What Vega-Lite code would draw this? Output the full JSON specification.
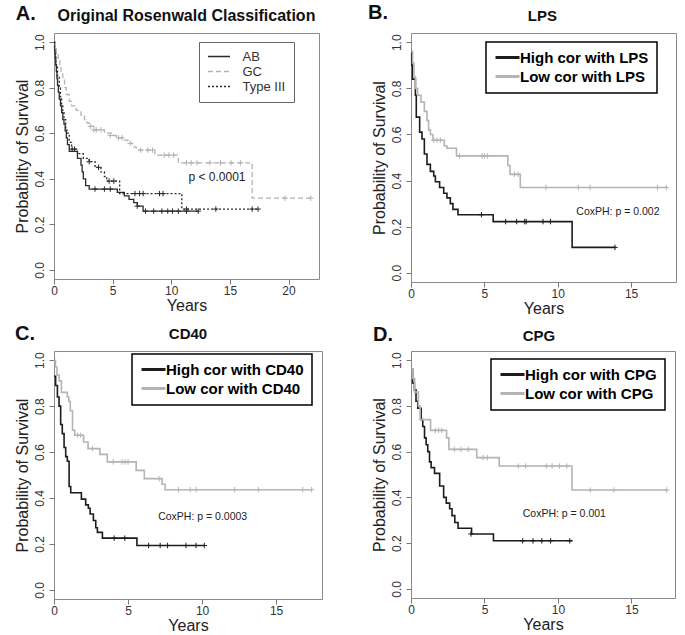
{
 "$schema": "https://vega.github.io/schema/vega-lite/v6.json",
 "background": "white",
 "padding": {"left": 13, "top": 2, "right": 0, "bottom": 0},
 "config": {
  "font": "Liberation Sans",
  "view": {"stroke": "#8a8a8a", "strokeWidth": 1},
  "axis": {"domain": false, "grid": false, "tickColor": "#777", "tickSize": 5, "labelFont": "Liberation Sans", "labelFontSize": 12, "labelColor": "#333", "titleFont": "Liberation Sans", "titleFontSize": 16, "titleFontWeight": "normal", "titleColor": "#222"},
  "axisX": {"labelPadding": 1, "titlePadding": 1, "labelFlush": false},
  "axisY": {"labelAngle": -90, "labelAlign": "center", "labelBaseline": "bottom", "labelPadding": 3, "titlePadding": 3, "format": ".1f", "labelFlush": false},
  "text": {"font": "Liberation Sans"}
 },
 "datasets": {
  "stepsA": [
   {"group":"AB","t":0,"s":1},{"group":"AB","t":0.05,"s":0.97},{"group":"AB","t":0.1,"s":0.93},{"group":"AB","t":0.15,"s":0.9},{"group":"AB","t":0.2,"s":0.87},{"group":"AB","t":0.25,"s":0.84},{"group":"AB","t":0.3,"s":0.81},{"group":"AB","t":0.37,"s":0.78},{"group":"AB","t":0.45,"s":0.75},{"group":"AB","t":0.55,"s":0.72},{"group":"AB","t":0.65,"s":0.69},{"group":"AB","t":0.75,"s":0.66},{"group":"AB","t":0.85,"s":0.64},{"group":"AB","t":0.95,"s":0.61},{"group":"AB","t":1.05,"s":0.58},{"group":"AB","t":1.15,"s":0.55},{"group":"AB","t":1.3,"s":0.52},{"group":"AB","t":2.0,"s":0.49},{"group":"AB","t":2.3,"s":0.46},{"group":"AB","t":2.4,"s":0.43},{"group":"AB","t":2.5,"s":0.4},{"group":"AB","t":2.7,"s":0.37},{"group":"AB","t":3.0,"s":0.355},{"group":"AB","t":5.4,"s":0.34},{"group":"AB","t":6.0,"s":0.325},{"group":"AB","t":6.4,"s":0.31},{"group":"AB","t":6.8,"s":0.295},{"group":"AB","t":7.1,"s":0.28},{"group":"AB","t":7.6,"s":0.258},{"group":"AB","t":12.3,"s":0.258},
   {"group":"GC","t":0,"s":1},{"group":"GC","t":0.1,"s":0.97},{"group":"GC","t":0.2,"s":0.95},{"group":"GC","t":0.35,"s":0.92},{"group":"GC","t":0.5,"s":0.9},{"group":"GC","t":0.6,"s":0.87},{"group":"GC","t":0.75,"s":0.84},{"group":"GC","t":0.9,"s":0.8},{"group":"GC","t":1.05,"s":0.77},{"group":"GC","t":1.3,"s":0.74},{"group":"GC","t":1.5,"s":0.72},{"group":"GC","t":1.9,"s":0.7},{"group":"GC","t":2.3,"s":0.68},{"group":"GC","t":2.6,"s":0.66},{"group":"GC","t":2.8,"s":0.645},{"group":"GC","t":3.0,"s":0.63},{"group":"GC","t":3.5,"s":0.615},{"group":"GC","t":4.3,"s":0.6},{"group":"GC","t":4.9,"s":0.59},{"group":"GC","t":5.3,"s":0.58},{"group":"GC","t":6.0,"s":0.57},{"group":"GC","t":6.3,"s":0.555},{"group":"GC","t":6.7,"s":0.54},{"group":"GC","t":7.0,"s":0.526},{"group":"GC","t":8.6,"s":0.504},{"group":"GC","t":10.6,"s":0.47},{"group":"GC","t":16.9,"s":0.315},{"group":"GC","t":21.9,"s":0.315},
   {"group":"Type III","t":0,"s":1},{"group":"Type III","t":0.05,"s":0.95},{"group":"Type III","t":0.15,"s":0.9},{"group":"Type III","t":0.3,"s":0.85},{"group":"Type III","t":0.45,"s":0.8},{"group":"Type III","t":0.55,"s":0.76},{"group":"Type III","t":0.65,"s":0.72},{"group":"Type III","t":0.75,"s":0.69},{"group":"Type III","t":0.85,"s":0.66},{"group":"Type III","t":1.0,"s":0.62},{"group":"Type III","t":1.1,"s":0.6},{"group":"Type III","t":1.3,"s":0.56},{"group":"Type III","t":1.5,"s":0.53},{"group":"Type III","t":2.0,"s":0.51},{"group":"Type III","t":2.5,"s":0.49},{"group":"Type III","t":3.0,"s":0.475},{"group":"Type III","t":3.5,"s":0.45},{"group":"Type III","t":4.0,"s":0.43},{"group":"Type III","t":4.3,"s":0.41},{"group":"Type III","t":4.5,"s":0.39},{"group":"Type III","t":5.6,"s":0.335},{"group":"Type III","t":10.9,"s":0.267},{"group":"Type III","t":17.4,"s":0.267}
  ],
  "censA": [
   {"group":"AB","t":3.5,"s":0.355},{"group":"AB","t":4.3,"s":0.355},{"group":"AB","t":4.8,"s":0.355},{"group":"AB","t":7.1,"s":0.28},{"group":"AB","t":7.8,"s":0.258},{"group":"AB","t":8.5,"s":0.258},{"group":"AB","t":9.2,"s":0.258},{"group":"AB","t":9.7,"s":0.258},{"group":"AB","t":10.1,"s":0.258},{"group":"AB","t":10.6,"s":0.258},{"group":"AB","t":11.3,"s":0.258},{"group":"AB","t":12.3,"s":0.258},
   {"group":"GC","t":3.1,"s":0.63},{"group":"GC","t":3.4,"s":0.615},{"group":"GC","t":3.6,"s":0.615},{"group":"GC","t":4.0,"s":0.615},{"group":"GC","t":4.8,"s":0.59},{"group":"GC","t":5.5,"s":0.58},{"group":"GC","t":5.8,"s":0.58},{"group":"GC","t":6.5,"s":0.555},{"group":"GC","t":7.4,"s":0.526},{"group":"GC","t":8.0,"s":0.526},{"group":"GC","t":8.4,"s":0.526},{"group":"GC","t":9.4,"s":0.504},{"group":"GC","t":9.8,"s":0.504},{"group":"GC","t":10.2,"s":0.504},{"group":"GC","t":11.3,"s":0.47},{"group":"GC","t":11.7,"s":0.47},{"group":"GC","t":12.2,"s":0.47},{"group":"GC","t":13.3,"s":0.47},{"group":"GC","t":14.2,"s":0.47},{"group":"GC","t":15.1,"s":0.47},{"group":"GC","t":15.9,"s":0.47},{"group":"GC","t":19.7,"s":0.315},{"group":"GC","t":21.9,"s":0.315},
   {"group":"Type III","t":1.55,"s":0.53},{"group":"Type III","t":1.75,"s":0.53},{"group":"Type III","t":3.0,"s":0.475},{"group":"Type III","t":3.8,"s":0.45},{"group":"Type III","t":4.7,"s":0.39},{"group":"Type III","t":5.1,"s":0.39},{"group":"Type III","t":6.9,"s":0.335},{"group":"Type III","t":7.3,"s":0.335},{"group":"Type III","t":7.6,"s":0.335},{"group":"Type III","t":9.0,"s":0.335},{"group":"Type III","t":9.3,"s":0.335},{"group":"Type III","t":11.3,"s":0.267},{"group":"Type III","t":13.8,"s":0.267},{"group":"Type III","t":16.9,"s":0.267},{"group":"Type III","t":17.4,"s":0.267}
  ],
  "noteA": [{"t":13.9,"s":0.41,"label":"p < 0.0001"}],
  "stepsB": [
   {"group":"High cor with LPS","t":0,"s":0.96},{"group":"High cor with LPS","t":0.05,"s":0.9},{"group":"High cor with LPS","t":0.1,"s":0.84},{"group":"High cor with LPS","t":0.3,"s":0.77},{"group":"High cor with LPS","t":0.36,"s":0.675},{"group":"High cor with LPS","t":0.59,"s":0.61},{"group":"High cor with LPS","t":0.75,"s":0.58},{"group":"High cor with LPS","t":0.91,"s":0.515},{"group":"High cor with LPS","t":1.09,"s":0.47},{"group":"High cor with LPS","t":1.32,"s":0.44},{"group":"High cor with LPS","t":1.55,"s":0.42},{"group":"High cor with LPS","t":1.66,"s":0.395},{"group":"High cor with LPS","t":1.95,"s":0.37},{"group":"High cor with LPS","t":2.23,"s":0.345},{"group":"High cor with LPS","t":2.45,"s":0.325},{"group":"High cor with LPS","t":2.68,"s":0.3},{"group":"High cor with LPS","t":2.86,"s":0.275},{"group":"High cor with LPS","t":3.2,"s":0.252},{"group":"High cor with LPS","t":5.6,"s":0.222},{"group":"High cor with LPS","t":10.98,"s":0.11},{"group":"High cor with LPS","t":13.93,"s":0.11},
   {"group":"Low cor with LPS","t":0,"s":0.96},{"group":"Low cor with LPS","t":0.11,"s":0.91},{"group":"Low cor with LPS","t":0.2,"s":0.85},{"group":"Low cor with LPS","t":0.3,"s":0.8},{"group":"Low cor with LPS","t":0.45,"s":0.77},{"group":"Low cor with LPS","t":0.68,"s":0.74},{"group":"Low cor with LPS","t":0.91,"s":0.7},{"group":"Low cor with LPS","t":1.09,"s":0.66},{"group":"Low cor with LPS","t":1.2,"s":0.62},{"group":"Low cor with LPS","t":1.32,"s":0.6},{"group":"Low cor with LPS","t":1.5,"s":0.575},{"group":"Low cor with LPS","t":2.27,"s":0.55},{"group":"Low cor with LPS","t":2.45,"s":0.54},{"group":"Low cor with LPS","t":3.1,"s":0.507},{"group":"Low cor with LPS","t":6.6,"s":0.465},{"group":"Low cor with LPS","t":6.75,"s":0.427},{"group":"Low cor with LPS","t":7.45,"s":0.37},{"group":"Low cor with LPS","t":17.45,"s":0.37}
  ],
  "censB": [
   {"group":"High cor with LPS","t":4.8,"s":0.252},{"group":"High cor with LPS","t":6.45,"s":0.222},{"group":"High cor with LPS","t":7.2,"s":0.222},{"group":"High cor with LPS","t":7.75,"s":0.222},{"group":"High cor with LPS","t":7.85,"s":0.222},{"group":"High cor with LPS","t":9.0,"s":0.222},{"group":"High cor with LPS","t":9.5,"s":0.222},{"group":"High cor with LPS","t":13.9,"s":0.11},
   {"group":"Low cor with LPS","t":1.55,"s":0.575},{"group":"Low cor with LPS","t":1.77,"s":0.575},{"group":"Low cor with LPS","t":2.0,"s":0.575},{"group":"Low cor with LPS","t":3.3,"s":0.507},{"group":"Low cor with LPS","t":4.85,"s":0.507},{"group":"Low cor with LPS","t":5.0,"s":0.507},{"group":"Low cor with LPS","t":5.2,"s":0.507},{"group":"Low cor with LPS","t":7.05,"s":0.427},{"group":"Low cor with LPS","t":7.3,"s":0.427},{"group":"Low cor with LPS","t":9.2,"s":0.37},{"group":"Low cor with LPS","t":11.4,"s":0.37},{"group":"Low cor with LPS","t":12.2,"s":0.37},{"group":"Low cor with LPS","t":16.8,"s":0.37},{"group":"Low cor with LPS","t":17.4,"s":0.37}
  ],
  "noteB": [{"t":14.1,"s":0.264,"label":"CoxPH: p = 0.002"}],
  "stepsC": [
   {"group":"High cor with CD40","t":0,"s":0.93},{"group":"High cor with CD40","t":0.11,"s":0.89},{"group":"High cor with CD40","t":0.23,"s":0.84},{"group":"High cor with CD40","t":0.34,"s":0.8},{"group":"High cor with CD40","t":0.45,"s":0.72},{"group":"High cor with CD40","t":0.56,"s":0.68},{"group":"High cor with CD40","t":0.68,"s":0.62},{"group":"High cor with CD40","t":0.79,"s":0.58},{"group":"High cor with CD40","t":0.9,"s":0.56},{"group":"High cor with CD40","t":1.02,"s":0.45},{"group":"High cor with CD40","t":1.13,"s":0.423},{"group":"High cor with CD40","t":1.85,"s":0.395},{"group":"High cor with CD40","t":2.14,"s":0.37},{"group":"High cor with CD40","t":2.32,"s":0.355},{"group":"High cor with CD40","t":2.44,"s":0.33},{"group":"High cor with CD40","t":2.66,"s":0.302},{"group":"High cor with CD40","t":2.82,"s":0.27},{"group":"High cor with CD40","t":2.93,"s":0.25},{"group":"High cor with CD40","t":3.27,"s":0.225},{"group":"High cor with CD40","t":5.6,"s":0.193},{"group":"High cor with CD40","t":10.15,"s":0.193},
   {"group":"Low cor with CD40","t":0,"s":1},{"group":"Low cor with CD40","t":0.1,"s":0.97},{"group":"Low cor with CD40","t":0.2,"s":0.935},{"group":"Low cor with CD40","t":0.35,"s":0.91},{"group":"Low cor with CD40","t":0.5,"s":0.86},{"group":"Low cor with CD40","t":0.9,"s":0.84},{"group":"Low cor with CD40","t":1.0,"s":0.82},{"group":"Low cor with CD40","t":1.1,"s":0.78},{"group":"Low cor with CD40","t":1.25,"s":0.695},{"group":"Low cor with CD40","t":1.4,"s":0.673},{"group":"Low cor with CD40","t":2.0,"s":0.644},{"group":"Low cor with CD40","t":2.3,"s":0.615},{"group":"Low cor with CD40","t":3.1,"s":0.59},{"group":"Low cor with CD40","t":3.6,"s":0.557},{"group":"Low cor with CD40","t":5.55,"s":0.52},{"group":"Low cor with CD40","t":6.1,"s":0.484},{"group":"Low cor with CD40","t":7.3,"s":0.46},{"group":"Low cor with CD40","t":7.5,"s":0.436},{"group":"Low cor with CD40","t":17.4,"s":0.436}
  ],
  "censC": [
   {"group":"High cor with CD40","t":4.06,"s":0.225},{"group":"High cor with CD40","t":4.78,"s":0.225},{"group":"High cor with CD40","t":6.39,"s":0.193},{"group":"High cor with CD40","t":7.17,"s":0.193},{"group":"High cor with CD40","t":7.67,"s":0.193},{"group":"High cor with CD40","t":8.91,"s":0.193},{"group":"High cor with CD40","t":9.59,"s":0.193},{"group":"High cor with CD40","t":10.15,"s":0.193},
   {"group":"Low cor with CD40","t":1.6,"s":0.673},{"group":"Low cor with CD40","t":1.8,"s":0.673},{"group":"Low cor with CD40","t":2.6,"s":0.615},{"group":"Low cor with CD40","t":4.0,"s":0.557},{"group":"Low cor with CD40","t":4.6,"s":0.557},{"group":"Low cor with CD40","t":4.8,"s":0.557},{"group":"Low cor with CD40","t":5.0,"s":0.557},{"group":"Low cor with CD40","t":7.1,"s":0.484},{"group":"Low cor with CD40","t":8.4,"s":0.436},{"group":"Low cor with CD40","t":9.2,"s":0.436},{"group":"Low cor with CD40","t":9.6,"s":0.436},{"group":"Low cor with CD40","t":12.2,"s":0.436},{"group":"Low cor with CD40","t":13.8,"s":0.436},{"group":"Low cor with CD40","t":16.8,"s":0.436},{"group":"Low cor with CD40","t":17.4,"s":0.436}
  ],
  "noteC": [{"t":10.04,"s":0.317,"label":"CoxPH: p = 0.0003"}],
  "stepsD": [
   {"group":"High cor with CPG","t":0,"s":0.96},{"group":"High cor with CPG","t":0.11,"s":0.9},{"group":"High cor with CPG","t":0.23,"s":0.87},{"group":"High cor with CPG","t":0.34,"s":0.82},{"group":"High cor with CPG","t":0.46,"s":0.79},{"group":"High cor with CPG","t":0.69,"s":0.74},{"group":"High cor with CPG","t":0.8,"s":0.71},{"group":"High cor with CPG","t":0.92,"s":0.66},{"group":"High cor with CPG","t":1.03,"s":0.63},{"group":"High cor with CPG","t":1.14,"s":0.6},{"group":"High cor with CPG","t":1.26,"s":0.555},{"group":"High cor with CPG","t":1.37,"s":0.53},{"group":"High cor with CPG","t":1.6,"s":0.505},{"group":"High cor with CPG","t":1.95,"s":0.45},{"group":"High cor with CPG","t":2.22,"s":0.4},{"group":"High cor with CPG","t":2.4,"s":0.375},{"group":"High cor with CPG","t":2.63,"s":0.35},{"group":"High cor with CPG","t":2.79,"s":0.32},{"group":"High cor with CPG","t":2.98,"s":0.29},{"group":"High cor with CPG","t":3.2,"s":0.265},{"group":"High cor with CPG","t":4.12,"s":0.24},{"group":"High cor with CPG","t":5.61,"s":0.21},{"group":"High cor with CPG","t":10.99,"s":0.21},
   {"group":"Low cor with CPG","t":0,"s":0.96},{"group":"Low cor with CPG","t":0.1,"s":0.92},{"group":"Low cor with CPG","t":0.25,"s":0.86},{"group":"Low cor with CPG","t":0.5,"s":0.8},{"group":"Low cor with CPG","t":0.62,"s":0.74},{"group":"Low cor with CPG","t":1.33,"s":0.693},{"group":"Low cor with CPG","t":2.42,"s":0.66},{"group":"Low cor with CPG","t":2.58,"s":0.61},{"group":"Low cor with CPG","t":4.47,"s":0.574},{"group":"Low cor with CPG","t":6.0,"s":0.537},{"group":"Low cor with CPG","t":10.95,"s":0.432},{"group":"Low cor with CPG","t":17.4,"s":0.432}
  ],
  "censD": [
   {"group":"High cor with CPG","t":4.08,"s":0.24},{"group":"High cor with CPG","t":7.6,"s":0.21},{"group":"High cor with CPG","t":8.3,"s":0.21},{"group":"High cor with CPG","t":8.9,"s":0.21},{"group":"High cor with CPG","t":9.5,"s":0.21},{"group":"High cor with CPG","t":10.8,"s":0.21},
   {"group":"Low cor with CPG","t":1.65,"s":0.693},{"group":"Low cor with CPG","t":1.88,"s":0.693},{"group":"Low cor with CPG","t":2.1,"s":0.693},{"group":"Low cor with CPG","t":2.95,"s":0.61},{"group":"Low cor with CPG","t":3.4,"s":0.61},{"group":"Low cor with CPG","t":3.9,"s":0.61},{"group":"Low cor with CPG","t":4.9,"s":0.574},{"group":"Low cor with CPG","t":5.2,"s":0.574},{"group":"Low cor with CPG","t":7.3,"s":0.537},{"group":"Low cor with CPG","t":7.8,"s":0.537},{"group":"Low cor with CPG","t":9.2,"s":0.537},{"group":"Low cor with CPG","t":9.6,"s":0.537},{"group":"Low cor with CPG","t":10.1,"s":0.537},{"group":"Low cor with CPG","t":10.6,"s":0.537},{"group":"Low cor with CPG","t":12.2,"s":0.432},{"group":"Low cor with CPG","t":13.8,"s":0.432},{"group":"Low cor with CPG","t":17.4,"s":0.432}
  ],
  "noteD": [{"t":10.43,"s":0.327,"label":"CoxPH: p = 0.001"}]
 },
 "columns": 2,
 "align": "none",
 "bounds": "flush",
 "spacing": {"row": 69, "column": 89},
 "resolve": {"scale": {"x": "independent", "y": "independent", "color": "independent", "strokeDash": "independent"}, "legend": {"color": "independent", "strokeDash": "independent"}},
 "concat": [
  {
   "width": 265, "height": 246,
   "layer": [
    {"data": {"name": "stepsA"}, "mark": {"type": "line", "interpolate": "step-after", "strokeWidth": 1.3},
     "encoding": {
      "x": {"field": "t", "type": "quantitative", "title": "Years", "scale": {"domain": [0, 22.6], "nice": false, "zero": false}, "axis": {"values": [0, 5, 10, 15, 20]}},
      "y": {"field": "s", "type": "quantitative", "title": "Probability of Survival", "scale": {"domain": [-0.04, 1.04], "nice": false, "zero": false}, "axis": {"values": [0, 0.2, 0.4, 0.6, 0.8, 1]}},
      "color": {"field": "group", "type": "nominal", "scale": {"domain": ["AB", "GC", "Type III"], "range": ["#2b2b2b", "#b3b3b3", "#2b2b2b"]},
       "legend": {"title": null, "orient": "none", "legendX": 145, "legendY": 9, "strokeColor": "#666", "fillColor": "white", "padding": 8, "cornerRadius": 0, "symbolType": "M-1,0H3", "symbolSize": 121, "symbolStrokeWidth": 1.3, "labelFontSize": 13, "labelColor": "#333", "labelOffset": 22.5, "rowPadding": 1}},
      "strokeDash": {"field": "group", "type": "nominal", "scale": {"domain": ["AB", "GC", "Type III"], "range": [[1, 0], [5, 3], [2, 2]]},
       "legend": {"title": null, "orient": "none", "legendX": 145, "legendY": 9, "strokeColor": "#666", "fillColor": "white", "padding": 8, "cornerRadius": 0, "symbolType": "M-1,0H3", "symbolSize": 121, "symbolStrokeWidth": 1.3, "labelFontSize": 13, "labelColor": "#333", "labelOffset": 22.5, "rowPadding": 1}}
     }},
    {"data": {"name": "censA"}, "mark": {"type": "point", "shape": "M-1,0H1M0,-1V1", "filled": false, "size": 30, "strokeWidth": 1, "opacity": 1},
     "encoding": {"x": {"field": "t", "type": "quantitative"}, "y": {"field": "s", "type": "quantitative"}, "color": {"field": "group", "type": "nominal"}}},
    {"data": {"name": "noteA"}, "mark": {"type": "text", "fontSize": 12, "color": "#222"},
     "encoding": {"x": {"field": "t", "type": "quantitative"}, "y": {"field": "s", "type": "quantitative"}, "text": {"field": "label"}}},
    {"data": {"values": [{"tag": "A."}]}, "mark": {"type": "text", "fontSize": 20, "fontWeight": "bold", "color": "#111", "clip": false},
     "encoding": {"x": {"datum": -2.4, "type": "quantitative"}, "y": {"datum": 1.125, "type": "quantitative"}, "text": {"field": "tag"}}},
    {"data": {"values": [{"head": "Original Rosenwald Classification"}]}, "mark": {"type": "text", "fontSize": 16, "fontWeight": "bold", "color": "#111", "clip": false},
     "encoding": {"x": {"datum": 11.3, "type": "quantitative"}, "y": {"datum": 1.115, "type": "quantitative"}, "text": {"field": "head"}}}
   ]
  },
  {
   "width": 265, "height": 249,
   "layer": [
    {"data": {"name": "stepsB"}, "mark": {"type": "line", "interpolate": "step-after", "strokeWidth": 1.6},
     "encoding": {
      "x": {"field": "t", "type": "quantitative", "title": "Years", "scale": {"domain": [0, 18.06], "nice": false, "zero": false}, "axis": {"values": [0, 5, 10, 15]}},
      "y": {"field": "s", "type": "quantitative", "title": "Probability of Survival", "scale": {"domain": [-0.04, 1.04], "nice": false, "zero": false}, "axis": {"values": [0, 0.2, 0.4, 0.6, 0.8, 1]}},
      "color": {"field": "group", "type": "nominal", "scale": {"domain": ["High cor with LPS", "Low cor with LPS"], "range": ["#1c1c1c", "#b4b4b4"]},
       "legend": {"title": null, "orient": "none", "legendX": 75, "legendY": 9, "strokeColor": "#000", "fillColor": "white", "padding": 8, "cornerRadius": 0, "symbolType": "M-1,0H3", "symbolSize": 144, "symbolStrokeWidth": 3, "labelFontSize": 15, "labelFontWeight": "bold", "labelColor": "#000", "labelOffset": 11, "rowPadding": 3, "encode": {"legend": {"update": {"strokeWidth": {"value": 1.5}}}}}}
     }},
    {"data": {"name": "censB"}, "mark": {"type": "point", "shape": "M-1,0H1M0,-1V1", "filled": false, "size": 30, "strokeWidth": 1, "opacity": 1},
     "encoding": {"x": {"field": "t", "type": "quantitative"}, "y": {"field": "s", "type": "quantitative"}, "color": {"field": "group", "type": "nominal"}}},
    {"data": {"name": "noteB"}, "mark": {"type": "text", "fontSize": 10.5, "color": "#222"},
     "encoding": {"x": {"field": "t", "type": "quantitative"}, "y": {"field": "s", "type": "quantitative"}, "text": {"field": "label"}}},
    {"data": {"values": [{"tag": "B."}]}, "mark": {"type": "text", "fontSize": 20, "fontWeight": "bold", "color": "#111", "clip": false},
     "encoding": {"x": {"datum": -2.25, "type": "quantitative"}, "y": {"datum": 1.125, "type": "quantitative"}, "text": {"field": "tag"}}},
    {"data": {"values": [{"head": "LPS"}]}, "mark": {"type": "text", "fontSize": 15, "fontWeight": "bold", "color": "#111", "clip": false},
     "encoding": {"x": {"datum": 8.95, "type": "quantitative"}, "y": {"datum": 1.115, "type": "quantitative"}, "text": {"field": "head"}}}
   ]
  },
  {
   "width": 268, "height": 248,
   "layer": [
    {"data": {"name": "stepsC"}, "mark": {"type": "line", "interpolate": "step-after", "strokeWidth": 1.6},
     "encoding": {
      "x": {"field": "t", "type": "quantitative", "title": "Years", "scale": {"domain": [0, 18.1], "nice": false, "zero": false}, "axis": {"values": [0, 5, 10, 15]}},
      "y": {"field": "s", "type": "quantitative", "title": "Probability of Survival", "scale": {"domain": [-0.04, 1.04], "nice": false, "zero": false}, "axis": {"values": [0, 0.2, 0.4, 0.6, 0.8, 1]}},
      "color": {"field": "group", "type": "nominal", "scale": {"domain": ["High cor with CD40", "Low cor with CD40"], "range": ["#1c1c1c", "#b4b4b4"]},
       "legend": {"title": null, "orient": "none", "legendX": 78, "legendY": 3, "strokeColor": "#000", "fillColor": "white", "padding": 8, "cornerRadius": 0, "symbolType": "M-1,0H3", "symbolSize": 144, "symbolStrokeWidth": 3, "labelFontSize": 15, "labelFontWeight": "bold", "labelColor": "#000", "labelOffset": 11, "rowPadding": 3, "encode": {"legend": {"update": {"strokeWidth": {"value": 1.5}}}}}}
     }},
    {"data": {"name": "censC"}, "mark": {"type": "point", "shape": "M-1,0H1M0,-1V1", "filled": false, "size": 30, "strokeWidth": 1, "opacity": 1},
     "encoding": {"x": {"field": "t", "type": "quantitative"}, "y": {"field": "s", "type": "quantitative"}, "color": {"field": "group", "type": "nominal"}}},
    {"data": {"name": "noteC"}, "mark": {"type": "text", "fontSize": 10.5, "color": "#222"},
     "encoding": {"x": {"field": "t", "type": "quantitative"}, "y": {"field": "s", "type": "quantitative"}, "text": {"field": "label"}}},
    {"data": {"values": [{"tag": "C."}]}, "mark": {"type": "text", "fontSize": 20, "fontWeight": "bold", "color": "#111", "clip": false},
     "encoding": {"x": {"datum": -1.96, "type": "quantitative"}, "y": {"datum": 1.114, "type": "quantitative"}, "text": {"field": "tag"}}},
    {"data": {"values": [{"head": "CD40"}]}, "mark": {"type": "text", "fontSize": 15, "fontWeight": "bold", "color": "#111", "clip": false},
     "encoding": {"x": {"datum": 9.05, "type": "quantitative"}, "y": {"datum": 1.114, "type": "quantitative"}, "text": {"field": "head"}}}
   ]
  },
  {
   "width": 264, "height": 247,
   "layer": [
    {"data": {"name": "stepsD"}, "mark": {"type": "line", "interpolate": "step-after", "strokeWidth": 1.6},
     "encoding": {
      "x": {"field": "t", "type": "quantitative", "title": "Years", "scale": {"domain": [0, 17.96], "nice": false, "zero": false}, "axis": {"values": [0, 5, 10, 15]}},
      "y": {"field": "s", "type": "quantitative", "title": "Probability of Survival", "scale": {"domain": [-0.04, 1.04], "nice": false, "zero": false}, "axis": {"values": [0, 0.2, 0.4, 0.6, 0.8, 1]}},
      "color": {"field": "group", "type": "nominal", "scale": {"domain": ["High cor with CPG", "Low cor with CPG"], "range": ["#1c1c1c", "#b4b4b4"]},
       "legend": {"title": null, "orient": "none", "legendX": 80, "legendY": 8, "strokeColor": "#000", "fillColor": "white", "padding": 8, "cornerRadius": 0, "symbolType": "M-1,0H3", "symbolSize": 144, "symbolStrokeWidth": 3, "labelFontSize": 15, "labelFontWeight": "bold", "labelColor": "#000", "labelOffset": 11, "rowPadding": 3, "encode": {"legend": {"update": {"strokeWidth": {"value": 1.5}}}}}}
     }},
    {"data": {"name": "censD"}, "mark": {"type": "point", "shape": "M-1,0H1M0,-1V1", "filled": false, "size": 30, "strokeWidth": 1, "opacity": 1},
     "encoding": {"x": {"field": "t", "type": "quantitative"}, "y": {"field": "s", "type": "quantitative"}, "color": {"field": "group", "type": "nominal"}}},
    {"data": {"name": "noteD"}, "mark": {"type": "text", "fontSize": 10.5, "color": "#222"},
     "encoding": {"x": {"field": "t", "type": "quantitative"}, "y": {"field": "s", "type": "quantitative"}, "text": {"field": "label"}}},
    {"data": {"values": [{"tag": "D."}]}, "mark": {"type": "text", "fontSize": 20, "fontWeight": "bold", "color": "#111", "clip": false},
     "encoding": {"x": {"datum": -1.9, "type": "quantitative"}, "y": {"datum": 1.11, "type": "quantitative"}, "text": {"field": "tag"}}},
    {"data": {"values": [{"head": "CPG"}]}, "mark": {"type": "text", "fontSize": 15, "fontWeight": "bold", "color": "#111", "clip": false},
     "encoding": {"x": {"datum": 8.7, "type": "quantitative"}, "y": {"datum": 1.105, "type": "quantitative"}, "text": {"field": "head"}}}
   ]
  }
 ]
}
